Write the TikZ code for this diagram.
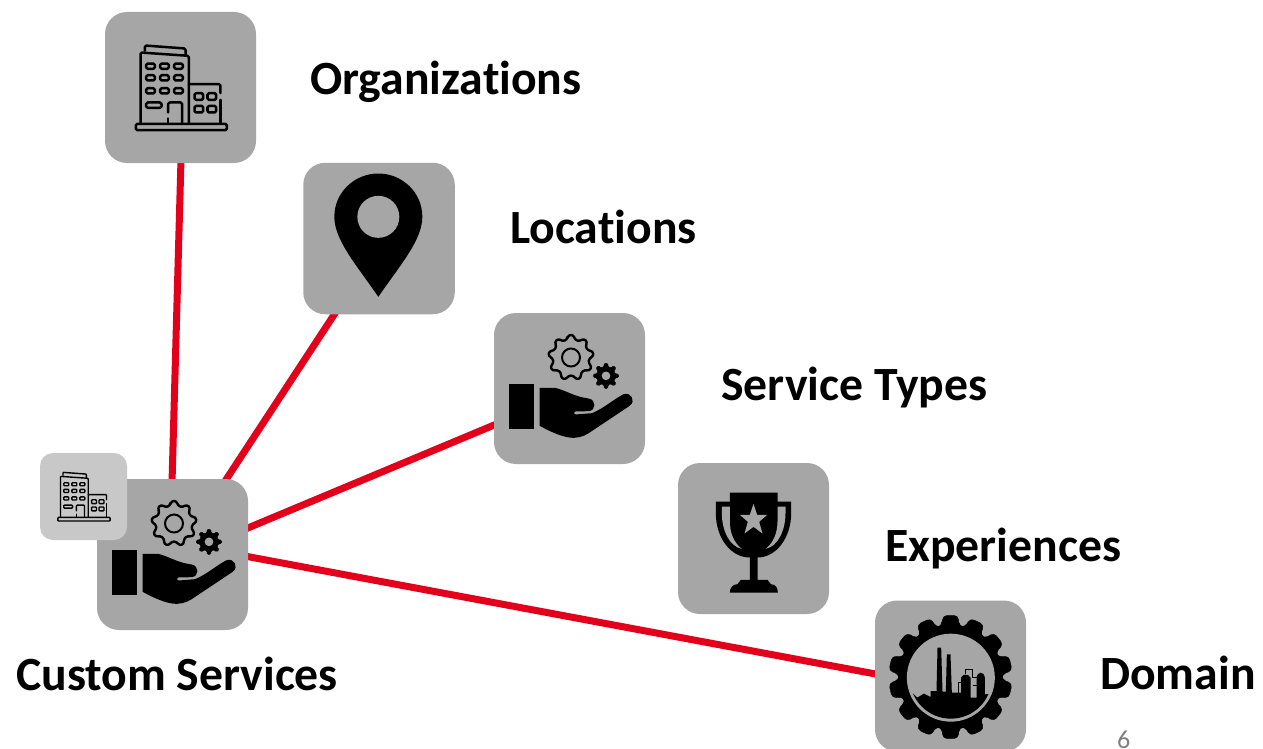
\documentclass[tikz,border=0pt]{standalone}
\usepackage{fontspec}
\setmainfont{Carlito}[Ligatures=NoCommon]
\usetikzlibrary{backgrounds}
\definecolor{tilegray}{HTML}{A6A6A6}
\definecolor{tilelight}{HTML}{C8C8C8}
\definecolor{linkred}{HTML}{E2001A}
\definecolor{pagegray}{HTML}{7F7F7F}
\newcommand\geardraw[8]{% options, cx, cy, rin, rout, n, tip fraction, root fraction
  \pgfmathsetmacro\gs{360/#6}
  \draw[#1,shift={(#2,#3)}] ({-90-#8*\gs}:#4)
    \foreach \i in {1,...,#6}{
      -- ({-90+(\i-1)*\gs-#7*\gs}:#5) -- ({-90+(\i-1)*\gs+#7*\gs}:#5)
      -- ({-90+(\i-1)*\gs+#8*\gs}:#4) -- ({-90+\i*\gs-#8*\gs}:#4)
    } -- cycle;}
\tikzset{
  x=1pt,y=-1pt,
  tile/.style={fill=tilegray,draw=none,rounded corners=22pt,minimum size=151pt,inner sep=0pt},
  smalltile/.style={fill=tilelight,draw=none,rounded corners=13pt,minimum size=87pt,inner sep=0pt},
  link/.style={draw=linkred,line width=7pt},
  label/.style={font=\fontsize{47.7}{48}\selectfont\bfseries,inner sep=0pt,anchor=base west,text=black},
  building/.pic={
    \begin{scope}[shift={(-240,-245)},draw=black,line cap=round,line join=round]
      \draw (133,135) -- (133,119) -- (255,128) -- (255,146);
      \draw (120,350) -- (120,140) -- (265,150) -- (265,350);
      \foreach \y in {181,216,255}\foreach \x in {150,192,234}
        \draw (\x-13,\y-8) rectangle (\x+13,\y+8);
      \draw (137,290) rectangle (183,306);
      \draw (203,320) -- (203,290) -- (245,290) -- (245,350);
      \draw (203,338) -- (203,350);
      \draw (265,235) -- (360,235) -- (360,262);
      \draw (360,282) -- (360,350);
      \foreach \y in {272,310}\foreach \x in {295,334}
        \draw (\x-13,\y-10) rectangle (\x+13,\y+10);
      \draw (106,354) rectangle (379,373);
    \end{scope}},
  hand/.pic={
    \begin{scope}[shift={(-427.5,-328)}]
      \fill[black] (247,315) rectangle (320,450);
      \fill[black] (338,326) -- (385,326) .. controls (420,335) and (440,352) .. (485,358)
        .. controls (508,362) and (508,394) .. (485,396) -- (445,397)
        .. controls (438,399) and (438,405) .. (446,406) -- (495,402)
        .. controls (530,388) and (560,360) .. (590,345)
        .. controls (612,338) and (628,365) .. (608,380) -- (485,462)
        .. controls (450,484) and (415,482) .. (338,440) -- cycle;
      \geardraw{draw=black,line width=2.4pt,rounded corners=2.5pt,line join=round}{432}{235}{55}{68}{9}{0.17}{0.29}
      \draw[black,line width=2pt] (432,235) circle[radius=27];
      \geardraw{fill=black,rounded corners=1pt}{537}{290}{28}{38}{8}{0.17}{0.30}
      \fill[tilegray] (537,290) circle[radius=13];
    \end{scope}},
  pinmark/.pic={
    \begin{scope}[shift={(-242,-240)}]
      \fill[black] (240,415) .. controls (175,320) and (108,245) .. (108,175)
        .. controls (108,100) and (170,45) .. (240,45)
        .. controls (310,45) and (372,100) .. (372,175)
        .. controls (372,245) and (305,320) .. (240,415) -- cycle;
      \fill[tilegray] (240,175) circle[radius=63];
    \end{scope}},
  trophy/.pic={
    \begin{scope}[shift={(-243,-241)}]
      \fill[black] (172,103) -- (315,103) -- (315,130) -- (356,130) -- (356,165)
        .. controls (356,240) and (310,298) .. (255,298) -- (255,365) -- (285,365) -- (295,378)
        .. controls (310,378) and (316,390) .. (316,403) -- (172,403)
        .. controls (172,390) and (180,378) .. (195,378) -- (205,365) -- (232,365) -- (232,298)
        .. controls (175,298) and (130,240) .. (130,165) -- (130,130) -- (172,130) -- cycle;
      \fill[tilegray] (148,145) -- (172,145) -- (172,190) .. controls (172,225) and (185,255) .. (208,272)
        .. controls (170,265) and (148,215) .. (148,165) -- cycle;
      \fill[tilegray] (339,145) -- (315,145) -- (315,190) .. controls (315,225) and (302,255) .. (279,272)
        .. controls (317,265) and (339,215) .. (339,165) -- cycle;
      \fill[tilegray] (243,137) -- (254,170) -- (284,170) -- (260,191) -- (270,226) -- (243,206)
        -- (216,226) -- (226,191) -- (202,170) -- (232,170) -- cycle;
    \end{scope}},
  factory/.pic={
    \begin{scope}[shift={(-240,-235)}]
      \geardraw{fill=black,rounded corners=4pt}{240}{238}{155}{186}{14}{0.27}{0.38}
      \fill[tilegray] (241,240) circle[radius=132];
      \begin{scope}
        \clip (241,240) circle[radius=123];
        \fill[black] (100,296) -- (128,288) -- (140,300) -- (160,288) -- (180,298) -- (180,280)
          -- (198,280) -- (201,150) -- (212,150) -- (216,282) -- (226,282) -- (229,170)
          -- (240,170) -- (244,285) -- (272,285) -- (272,240)
          .. controls (275,228) and (295,228) .. (300,240) -- (300,300) -- (318,300) -- (318,240)
          .. controls (322,220) and (340,220) .. (343,240) -- (343,290) -- (400,285) -- (400,400) -- (100,400) -- cycle;
      \end{scope}
      \draw[black,line width=.6pt] (283,228) -- (283,215) -- (306,215) -- (306,240) -- (322,240);
      \draw[black,line width=.6pt] (272,255) -- (264,255) -- (264,300);
      \draw[black,line width=.6pt] (306,262) -- (322,262);
    \end{scope}}
}
\begin{document}
\begin{tikzpicture}
  \useasboundingbox (0,0) rectangle (1263,749);
  \node[tile] (org) at (180.5,87.5) {};
  \node[tile,minimum size=151.5pt] (loc) at (379,238.5) {};
  \node[tile] (svc) at (569.5,388.5) {};
  \node[tile] (exp) at (753.5,538.5) {};
  \node[tile] (dom) at (950.5,676) {};
  \node[tile] (hub) at (172.5,554.5) {};
  \node[smalltile] (sub) at (83.5,496.5) {};
  \begin{scope}[on background layer]
    \draw[link] ([xshift=-2.5pt]hub.center) -- ([xshift=2.5pt]org.center);
    \draw[link] ([xshift=4.5pt]hub.center) -- ([xshift=5pt]loc.center);
    \draw[link] ([yshift=-5pt]hub.center) -- ([yshift=-5pt]svc.center);
    \draw[link] ([yshift=12pt]hub.center) -- ([yshift=-12pt]dom.center);
  \end{scope}
  \pic[scale=.3333,line width=2.5pt,rounded corners=1.5pt] at (org.center) {building};
  \pic[scale=.1917,line width=1.4pt,rounded corners=.8pt] at (sub.center) {building};
  \pic[scale=.3333] at (loc.center) {pinmark};
  \pic[scale=.3333] at (svc.center) {hand};
  \pic[scale=.3333] at (hub.center) {hand};
  \pic[scale=.3333] at (exp.center) {trophy};
  \pic[scale=.3333] at (dom.center) {factory};
  \node[label] (torg) at (310,95) {Organizations};
  \node[label] (tloc) at (510,243) {Locations};
  \node[label] (tsvc) at (721,400) {Service Types};
  \node[label] (texp) at (885,561) {Experiences};
  \node[label] (thub) at (16,690) {Custom Services};
  \node[label] (tdom) at (1100,689) {Domain};
  \node[inner sep=0pt,anchor=base west,text=pagegray,font=\fontsize{26}{26}\selectfont] (pg) at (1117,748) {6};
\end{tikzpicture}
\end{document}
